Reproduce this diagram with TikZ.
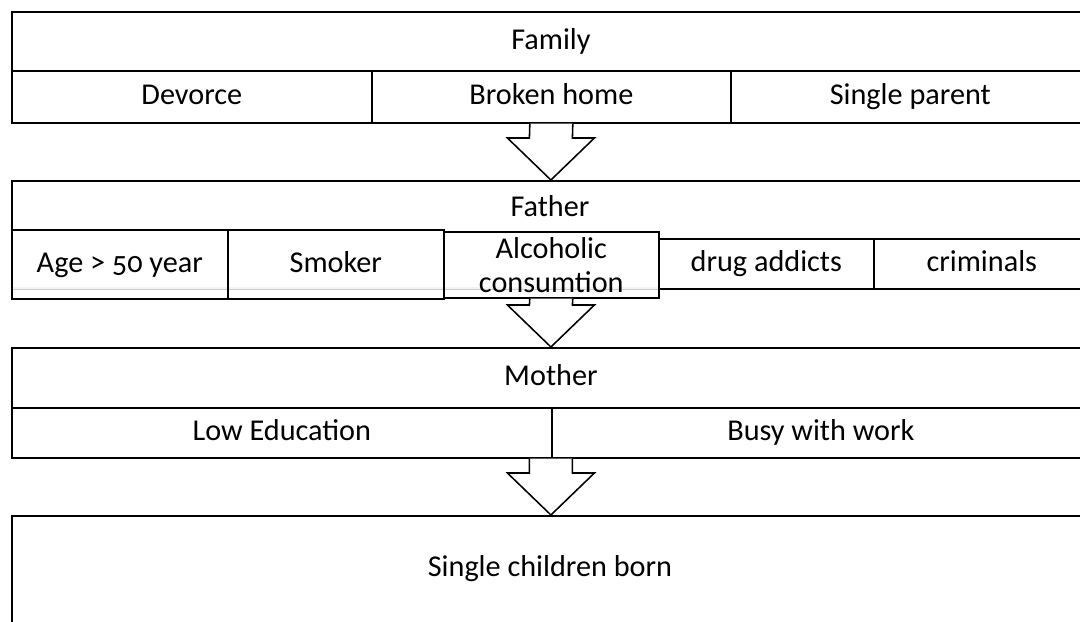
\documentclass[tikz,border=0pt]{standalone}
\usepackage{fontspec}
\setmainfont{Carlito}[Numbers=OldStyle]
\usetikzlibrary{calc}

% big hollow arrow: #1 = start on the box above, #2 = tip on the box below
\newcommand{\blockarrow}[2]{%
  \draw[hollow] ($(#1)+(-21.5,0)$) -- ($(#2)+(-21.5,-42)$) -- ($(#2)+(-43.5,-42)$)
    -- (#2) -- ($(#2)+(43.5,-42)$) -- ($(#2)+(21.5,-42)$) -- ($(#1)+(21.5,0)$);}

\begin{document}
\begin{tikzpicture}[x=0.025cm, y=-0.025cm,
    cell/.style = {draw, line width=1.1pt, inner sep=0pt, anchor=north west,
                   fill=white, text height=15pt, text depth=4pt,
                   font=\fontsize{21.5}{25}\selectfont},
    frame/.style = {draw, line width=1.1pt, inner sep=0pt, anchor=north west},
    txt/.style = {text height=15pt, text depth=4pt, font=\fontsize{21.5}{25}\selectfont},
    seethru/.style = {fill opacity=0.8, text opacity=1},
    hollow/.style = {draw, fill=white, line width=1.1pt, line join=miter}]
    \clip (0,0) rectangle (1080,622);
    \useasboundingbox (0,0) rectangle (1080,622);

    % Family
    \node [cell, minimum width=26.95cm, minimum height=1.475cm] (famhead) at (11,11) {Family};
    \node [cell, minimum width=9cm, minimum height=1.3cm] (devorce) at (11,70) {Devorce};
    \node [cell, minimum width=8.975cm, minimum height=1.3cm] (broken) at (371,70) {Broken home};
    \node [cell, minimum width=8.975cm, minimum height=1.3cm] (single) at (730,70) {Single parent};

    % Father
    \node [frame, minimum width=26.95cm, minimum height=2.7cm] (father) at (11,180) {};
    \node [txt] (fathertxt) at (550,209) {Father};
    \draw [gray!40, line width=1.1pt] (11,288) -- (658,288);
    \node [cell, seethru, minimum width=5.4cm, minimum height=1.725cm] (age) at (11,229) {Age > 50 year};
    \node [cell, seethru, minimum width=5.4cm, minimum height=1.725cm] (smoker) at (227,229) {Smoker};
    \node [cell, seethru, minimum width=5.375cm, minimum height=1.65cm, align=center,
           text height={}, text depth={}] (alc) at (443,231)
        {Alcoholic\\[-1pt]consumtion};
    \node [cell, minimum width=5.375cm, minimum height=1.25cm] (drug) at (658,238) {drug addicts};
    \node [cell, minimum width=5.4cm, minimum height=1.25cm] (crim) at (873,238) {criminals};

    % Mother
    \node [cell, minimum width=26.95cm, minimum height=1.5cm] (mohead) at (11,347) {Mother};
    \node [cell, minimum width=13.5cm, minimum height=1.25cm] (lowedu) at (11,407) {Low Education};
    \node [cell, minimum width=13.45cm, minimum height=1.25cm] (busy) at (551,407) {Busy with work};

    % Child
    \node [frame, minimum width=26.95cm, minimum height=5cm] (child) at (11,515) {};
    \node [txt] (childtxt) at (550,569) {Single children born};

    % Arrows
    \blockarrow{broken.south}{father.north}
    \blockarrow{alc.south}{mohead.north}
    \blockarrow{mohead.center |- lowedu.south}{child.north}
\end{tikzpicture}
\end{document}
